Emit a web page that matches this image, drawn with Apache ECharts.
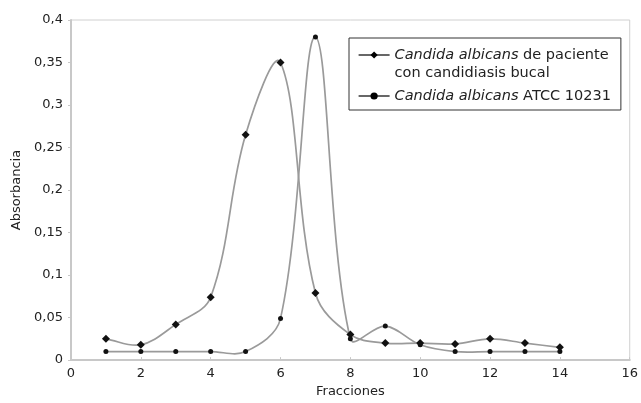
<!DOCTYPE html>
<html><head><meta charset="utf-8">
<script src="https://cdn.jsdelivr.net/npm/echarts@6/dist/echarts.min.js"></script>
<style>html,body{margin:0;padding:0;background:#fff}#c{width:641px;height:403px}</style>
</head><body><div id="c"></div>
<script>
var fracciones = [1,2,3,4,5,6,7,8,9,10,11,12,13,14];
var paciente = [0.025,0.018,0.042,0.074,0.265,0.350,0.079,0.030,0.020,0.020,0.019,0.025,0.020,0.015];
var atcc = [0.010,0.010,0.010,0.010,0.010,0.049,0.380,0.025,0.040,0.018,0.010,0.010,0.010,0.010];

function pairs(ys){ return fracciones.map(function(x,i){return [x, ys[i]];}); }

// Smooth curve through the data, positioned by the chart's own coordinate system
function curveRenderer(ys){
  return function(params, api){
    var i = params.dataIndex, n = fracciones.length;
    if (i >= n - 1) return null;
    var p = function(k){ k = Math.max(0, Math.min(n-1, k)); return api.coord([fracciones[k], ys[k]]); };
    var dist = function(a,b){ return Math.sqrt((a[0]-b[0])*(a[0]-b[0])+(a[1]-b[1])*(a[1]-b[1])); };
    var P0 = p(i-1), P1 = p(i), P2 = p(i+1), P3 = p(i+2);
    var d01 = dist(P0,P1), d12 = dist(P1,P2), d23 = dist(P2,P3);
    var f = 0.36;
    var a = (d01 + d12) > 0 ? f * d12 / (d01 + d12) : 0;
    var b = (d12 + d23) > 0 ? f * d12 / (d12 + d23) : 0;
    return {
      type:'bezierCurve',
      shape:{x1:P1[0],y1:P1[1],x2:P2[0],y2:P2[1],
        cpx1:P1[0]+(P2[0]-P0[0])*a, cpy1:P1[1]+(P2[1]-P0[1])*a,
        cpx2:P2[0]-(P3[0]-P1[0])*b, cpy2:P2[1]-(P3[1]-P1[1])*b},
      style:{stroke:'#9a9a9a', lineWidth:1.7, fill:null},
      silent:true
    };
  };
}

var chart = echarts.init(document.getElementById('c'));
var font = 'DejaVu Sans, Verdana, sans-serif';
chart.setOption({
  animation:false,
  backgroundColor:'#fff',
  textStyle:{fontFamily:font},
  grid:{left:71,right:6,top:20,bottom:40,show:true,borderColor:'#d0d0d0',borderWidth:1},
  legend:{
    orient:'vertical', left:349, top:38,
    padding:[8,10,0,9], itemGap:0, itemWidth:31, itemHeight:9,
    borderColor:'#333', borderWidth:1, backgroundColor:'#fff',
    lineStyle:{color:'#000',width:1.2,opacity:1},
    itemStyle:{color:'#000',opacity:1},
    data:[{name:'paciente'},{name:'linea2',icon:'none'},{name:'atcc'}],
    formatter:function(n){
      if(n==='paciente') return '{i|Candida albicans} {t|de paciente}';
      if(n==='linea2') return '{t|con candidiasis bucal}';
      return '{i2|Candida albicans} {t2|ATCC 10231}';
    },
    textStyle:{fontFamily:font,fontSize:14.5,color:'#222',lineHeight:18,
      rich:{
        i:{fontStyle:'italic',fontFamily:font,fontSize:14.5,color:'#222',lineHeight:18},
        t:{fontFamily:font,fontSize:14.5,color:'#222',lineHeight:18},
        i2:{fontStyle:'italic',fontFamily:font,fontSize:14.5,color:'#222',lineHeight:28},
        t2:{fontFamily:font,fontSize:14.5,color:'#222',lineHeight:28}
      }}
  },
  xAxis:{type:'value',min:0,max:16,interval:2,
    name:'Fracciones',nameLocation:'middle',nameGap:23,
    nameTextStyle:{fontFamily:font,fontSize:13,color:'#222'},
    axisLine:{lineStyle:{color:'#c8c8c8',width:2}},
    axisTick:{show:true,length:-3,lineStyle:{color:'#c8c8c8'}},
    axisLabel:{fontFamily:font,fontSize:13,color:'#222',margin:7},
    splitLine:{show:false}},
  yAxis:{type:'value',min:0,max:0.4,interval:0.05,
    name:'Absorbancia',nameLocation:'middle',nameGap:45,nameRotate:90,
    nameTextStyle:{fontFamily:font,fontSize:13,color:'#222'},
    axisLine:{show:true,lineStyle:{color:'#c8c8c8',width:2}},
    axisTick:{show:true,length:3,lineStyle:{color:'#c8c8c8'}},
    axisLabel:{fontFamily:font,fontSize:13,color:'#222',margin:8,
      formatter:function(v){return String(Math.round(v*100)/100).replace('.',',');}},
    splitLine:{show:false}},
  series:[
    {name:'pacienteCurve',type:'custom',renderItem:curveRenderer(paciente),data:pairs(paciente),
      encode:{x:0,y:1},z:1,clip:false},
    {name:'atccCurve',type:'custom',renderItem:curveRenderer(atcc),data:pairs(atcc),
      encode:{x:0,y:1},z:1,clip:false},
    {name:'paciente',type:'line',data:pairs(paciente),z:3,
      symbol:'diamond',symbolSize:8,showAllSymbol:true,
      itemStyle:{color:'#111'},lineStyle:{opacity:0}},
    {name:'atcc',type:'line',data:pairs(atcc),z:3,
      symbol:'circle',symbolSize:5,showAllSymbol:true,
      itemStyle:{color:'#111'},lineStyle:{opacity:0}},
    {name:'linea2',type:'line',data:[],symbol:'none',lineStyle:{opacity:0}}
  ]
});
</script></body></html>
